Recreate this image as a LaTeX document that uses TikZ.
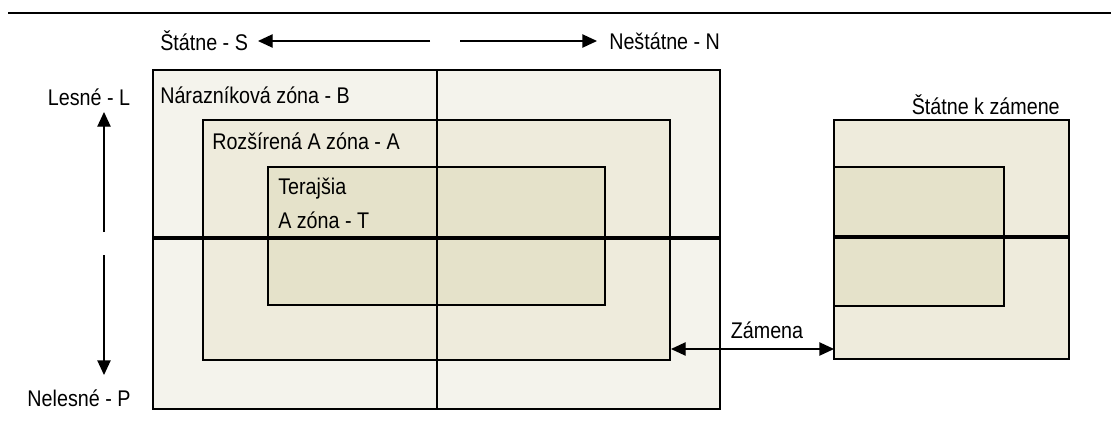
\documentclass[tikz,border=0pt]{standalone}
\usepackage{fontspec}
\setmainfont{Liberation Sans}[FakeStretch=0.87]
\usetikzlibrary{arrows.meta}

\definecolor{zoneB}{HTML}{F4F3EC}
\definecolor{zoneA}{HTML}{EEEBDC}
\definecolor{zoneT}{HTML}{E5E2CA}

\begin{document}
\begin{tikzpicture}[x=0.75pt,y=-0.75pt,
  zone/.style={draw, line width=0.9pt},
  split/.style={line width=3pt},
  dirarrow/.style={line width=1pt, -{Triangle[length=11pt,width=10pt]}},
  lbl/.style={font=\fontsize{17}{20}\selectfont, inner sep=0pt}]

\useasboundingbox (0,0) rectangle (1111,429);

% Top rule
\draw[line width=1.5pt] (8,13) -- (1111,13);

% Left diagram: nested zones
\filldraw[zone, fill=zoneB] (153,70) rectangle (720,409);
\filldraw[zone, fill=zoneA] (203,120) rectangle (670,360);
\filldraw[zone, fill=zoneT] (268,167) rectangle (605,305);
\draw[line width=0.9pt] (437,70) -- (437,409);
\draw[split] (153,238) -- (720,238);

% Right diagram: exchanged state land
\filldraw[zone, fill=zoneA] (834,120) rectangle (1069,359);
\filldraw[zone, fill=zoneT] (834,167) rectangle (1004,306);
\draw[split] (834,237) -- (1069,237);

% Zone labels
\node[lbl, anchor=west] (buffer) at (160,95) {Nárazníková zóna - B};
\node[lbl, anchor=west] (extA) at (212,141) {Rozšírená A zóna - A};
\node[lbl, anchor=west] (curT) at (278,189) {Terajšia};
\node[lbl, anchor=west] (curT2) at (278,220) {A zóna - T};
\node[lbl, anchor=east] (swapped) at (1060,105) {Štátne k zámene};

% Direction labels
\node[lbl, anchor=west] (state) at (160,41) {Štátne - S};
\node[lbl, anchor=west] (nonstate) at (609,41) {Neštátne - N};
\node[lbl] (forest) at (89,97) {Lesné - L};
\node[lbl] (nonforest) at (79,398) {Nelesné - P};
\node[lbl] (swap) at (767,330) {Zámena};

% Arrows
\coordinate (sFrom) at (430,41);
\coordinate (nFrom) at (460,41);
\coordinate (lFrom) at (104,232);
\coordinate (pFrom) at (104,255);
\draw[dirarrow] (sFrom) -- (258,41);
\draw[dirarrow] (nFrom) -- (597,41);
\draw[dirarrow] (lFrom) -- (104,112);
\draw[dirarrow] (pFrom) -- (104,375);
\coordinate (swapL) at (671,349);
\coordinate (swapR) at (834,349);
\draw[line width=1pt, {Triangle[length=11pt,width=10pt]}-{Triangle[length=11pt,width=10pt]}] (swapL) -- (swapR);

\end{tikzpicture}
\end{document}
